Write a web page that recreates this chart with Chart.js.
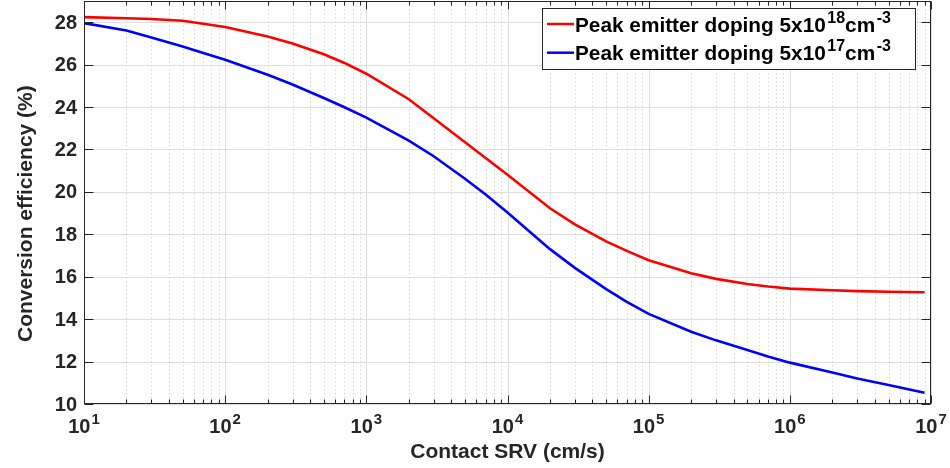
<!DOCTYPE html>
<html>
<head>
<meta charset="utf-8">
<script src="https://cdn.jsdelivr.net/npm/chart.js@4.4.1/dist/chart.umd.min.js"></script>
<style>
  html, body { margin: 0; padding: 0; background: #fff; }
  #chart { display: block; }
</style>
</head>
<body>
<canvas id="chart" width="950" height="468"></canvas>
<script>
// contact SRV (cm/s)
const srvValues = [
  10, 20, 30, 50, 70,
  100, 200, 300, 500, 700,
  1e3, 2e3, 3e3, 5e3, 7e3,
  1e4, 2e4, 3e4, 5e4, 7e4,
  1e5, 2e5, 3e5, 5e5, 7e5,
  1e6, 2e6, 3e6, 5e6, 9e6
];

// conversion efficiency (%), peak emitter doping 5x10^18
const effHighDoping = [
  28.24, 28.19, 28.15, 28.07, 27.93,
  27.77, 27.33, 27.0, 26.49, 26.08,
  25.57, 24.37, 23.47, 22.34, 21.6,
  20.81, 19.23, 18.47, 17.67, 17.22,
  16.78, 16.16, 15.9, 15.66, 15.54,
  15.44, 15.36, 15.32, 15.29, 15.27
];

// conversion efficiency (%), peak emitter doping 5x10^17
const effLowDoping = [
  27.96, 27.61, 27.28, 26.86, 26.55,
  26.23, 25.52, 25.06, 24.43, 23.99,
  23.5, 22.42, 21.68, 20.62, 19.88,
  19.03, 17.3, 16.42, 15.42, 14.82,
  14.25, 13.41, 13.0, 12.55, 12.24,
  11.95, 11.48, 11.2, 10.9, 10.53
];

const yTickValues = [10, 12, 14, 16, 18, 20, 22, 24, 26, 28];
const xDecadeExponents = [1, 2, 3, 4, 5, 6, 7];

const legendItems = [
  { base: "Peak emitter doping 5x10", exp: "18", color: "#ff0000" },
  { base: "Peak emitter doping 5x10", exp: "17", color: "#0000ff" }
];

const FONT = '"Liberation Sans", Arial, Helvetica, sans-serif';
const TEXT = "#262626";

function toPoints(xs, ys) {
  return xs.map((x, i) => ({ x, y: ys[i] }));
}

// text runs with superscripts
function richWidth(ctx, parts, size, supSize) {
  let w = 0;
  parts.forEach(p => {
    ctx.font = `bold ${p.sup ? supSize : size}px ${FONT}`;
    w += ctx.measureText(p.t).width + (p.sup ? 1 : 0);
  });
  return w;
}

function drawRich(ctx, parts, x, y, size, supSize, supRise, gap = 1) {
  let cx = x;
  ctx.textAlign = "left";
  ctx.textBaseline = "alphabetic";
  parts.forEach(p => {
    ctx.font = `bold ${p.sup ? supSize : size}px ${FONT}`;
    ctx.fillText(p.t, cx + (p.sup ? gap : 0), p.sup ? y - supRise : y);
    cx += ctx.measureText(p.t).width + (p.sup ? gap : 0);
  });
}

const matlabAxes = {
  id: "matlabAxes",
  beforeDatasetsDraw(chart) {
    const { ctx, chartArea: a, scales } = chart;
    const xs = scales.x, ys = scales.y;
    ctx.save();
    ctx.lineWidth = 1;

    // minor x grid (dotted)
    ctx.strokeStyle = "#d9d9d9";
    ctx.setLineDash([1.5, 2.5]);
    for (let e = 1; e < 7; e++) {
      for (let m = 2; m <= 9; m++) {
        const px = Math.round(xs.getPixelForValue(m * Math.pow(10, e))) + 0.5;
        ctx.beginPath();
        ctx.moveTo(px, a.top);
        ctx.lineTo(px, a.bottom);
        ctx.stroke();
      }
    }
    ctx.setLineDash([]);

    // major grid
    ctx.strokeStyle = "#dedede";
    xDecadeExponents.forEach(e => {
      const px = Math.round(xs.getPixelForValue(Math.pow(10, e))) + 0.5;
      ctx.beginPath();
      ctx.moveTo(px, a.top);
      ctx.lineTo(px, a.bottom);
      ctx.stroke();
    });
    yTickValues.forEach(v => {
      const py = Math.round(ys.getPixelForValue(v)) + 0.5;
      ctx.beginPath();
      ctx.moveTo(a.left, py);
      ctx.lineTo(a.right, py);
      ctx.stroke();
    });
    ctx.restore();
  },
  afterDatasetsDraw(chart) {
    const { ctx, chartArea: a, scales } = chart;
    const xs = scales.x, ys = scales.y;
    ctx.save();

    // box
    ctx.strokeStyle = TEXT;
    ctx.lineWidth = 1;
    const L = Math.round(a.left) + 0.5, R = Math.round(a.right) - 0.5;
    const T = Math.round(a.top) + 0.5, B = Math.round(a.bottom) - 0.5;
    ctx.strokeRect(L, T, R - L, B - T);

    // ticks, inside, on all four sides
    ctx.beginPath();
    for (let e = 1; e < 7; e++) {
      for (let m = 2; m <= 9; m++) {
        const px = Math.round(xs.getPixelForValue(m * Math.pow(10, e))) + 0.5;
        ctx.moveTo(px, B); ctx.lineTo(px, B - 4);
        ctx.moveTo(px, T); ctx.lineTo(px, T + 4);
      }
    }
    xDecadeExponents.forEach(e => {
      const px = Math.round(xs.getPixelForValue(Math.pow(10, e))) + 0.5;
      ctx.moveTo(px, B); ctx.lineTo(px, B - 8);
      ctx.moveTo(px, T); ctx.lineTo(px, T + 8);
    });
    yTickValues.forEach(v => {
      const py = Math.round(ys.getPixelForValue(v)) + 0.5;
      ctx.moveTo(L, py); ctx.lineTo(L + 9, py);
      ctx.moveTo(R, py); ctx.lineTo(R - 9, py);
    });
    ctx.stroke();

    ctx.fillStyle = TEXT;

    // y tick labels
    ctx.font = `bold 20px ${FONT}`;
    ctx.textAlign = "right";
    ctx.textBaseline = "middle";
    yTickValues.forEach(v => {
      ctx.fillText(String(v), a.left - 7, ys.getPixelForValue(v) + 1);
    });

    // x tick labels 10^n
    xDecadeExponents.forEach(e => {
      const parts = [{ t: "10" }, { t: String(e), sup: true }];
      const w = richWidth(ctx, parts, 20, 15);
      const px = xs.getPixelForValue(Math.pow(10, e));
      drawRich(ctx, parts, px - w / 2, a.bottom + 29, 20, 15, 9);
    });

    // axis titles
    ctx.font = `bold 21px ${FONT}`;
    ctx.textAlign = "center";
    ctx.textBaseline = "alphabetic";
    ctx.fillText("Contact SRV (cm/s)", (a.left + a.right) / 2, 458);

    ctx.save();
    ctx.translate(31.5, 342);
    ctx.rotate(-Math.PI / 2);
    ctx.textAlign = "left";
    ctx.fillText("Conversion efficiency (%)", 0, 0);
    ctx.restore();

    // legend
    const bx = 542.5, by = 8.5, bw = 373, bh = 61;
    ctx.fillStyle = "#fff";
    ctx.fillRect(bx, by, bw, bh);
    ctx.strokeStyle = TEXT;
    ctx.lineWidth = 1;
    ctx.strokeRect(bx, by, bw, bh);
    legendItems.forEach((item, i) => {
      const ly = 24 + i * 28.7;
      ctx.strokeStyle = item.color;
      ctx.lineWidth = 2.5;
      ctx.beginPath();
      ctx.moveTo(547, ly);
      ctx.lineTo(574, ly);
      ctx.stroke();
      ctx.fillStyle = "#000";
      drawRich(ctx, [
        { t: item.base }, { t: item.exp, sup: true }, { t: "cm" }, { t: "-3", sup: true }
      ], 575, ly + 7.5, 20.8, 16, 9, 1.5);
    });

    ctx.restore();
  }
};

new Chart(document.getElementById("chart"), {
  type: "line",
  data: {
    datasets: [
      {
        label: "Peak emitter doping 5x10^18 cm^-3",
        data: toPoints(srvValues, effHighDoping),
        borderColor: "#ff0000",
        borderWidth: 2.6,
        pointRadius: 0,
        tension: 0,
        fill: false
      },
      {
        label: "Peak emitter doping 5x10^17 cm^-3",
        data: toPoints(srvValues, effLowDoping),
        borderColor: "#0000ff",
        borderWidth: 2.6,
        pointRadius: 0,
        tension: 0,
        fill: false
      }
    ]
  },
  options: {
    responsive: false,
    devicePixelRatio: 1,
    animation: false,
    layout: { padding: { left: 84, right: 19, top: 1, bottom: 64 } },
    plugins: {
      legend: { display: false },
      tooltip: { enabled: false }
    },
    scales: {
      x: { type: "logarithmic", min: 10, max: 1e7, display: false },
      y: { type: "linear", min: 10, max: 29, display: false }
    }
  },
  plugins: [matlabAxes]
});
</script>
</body>
</html>
